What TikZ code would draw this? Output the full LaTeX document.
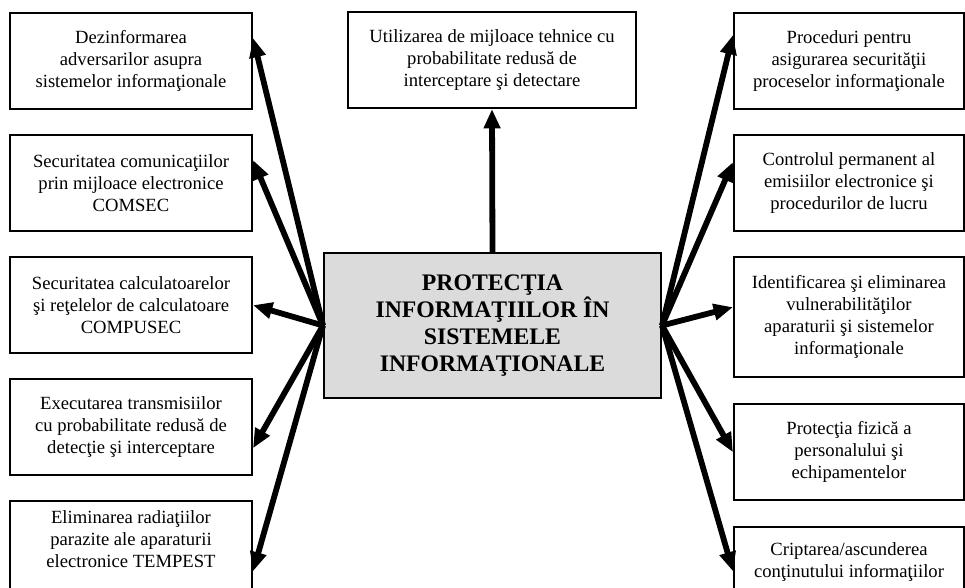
\documentclass[tikz,border=0pt]{standalone}
\usepackage{fontspec}
\setmainfont{Liberation Serif}
\usetikzlibrary{arrows.meta,positioning}
\tikzset{
  sbox/.style ={draw, line width=1.2pt, align=center, inner sep=2pt,
                font=\fontsize{10.6}{12.5}\selectfont},
  lbox/.style ={sbox, minimum width=4.84cm, minimum height=1.92cm},
  rbox/.style ={sbox, minimum width=4.6cm, minimum height=1.92cm},
  cbox/.style ={draw, line width=1.2pt, fill=black!14, align=center,
                minimum width=6.74cm, minimum height=2.9cm,
                font=\fontsize{13.5}{15.4}\selectfont\bfseries},
  bar/.style  ={line width=3.3pt, -{Triangle[length=11pt,width=9pt]}},
}
\begin{document}
\begin{tikzpicture}[x=0.02cm, y=-0.02cm]
\useasboundingbox (0,0) rectangle (965,588);

% centre and top
\node[cbox] (C) at (492.5,325.5)
  {PROTECŢIA\\INFORMAŢIILOR ÎN\\SISTEMELE\\INFORMAŢIONALE};
\node[sbox, minimum width=5.76cm, minimum height=1.92cm] (T) at (492,60)
  {Utilizarea de mijloace tehnice cu\\probabilitate redusă de\\interceptare şi detectare};

% left column
\node[lbox] (L1) at (131,61)
  {Dezinformarea\\adversarilor asupra\\sistemelor informaţionale};
\node[lbox, below=0.48cm of L1] (L2)
  {Securitatea comunicaţiilor\\prin mijloace electronice\\COMSEC};
\node[lbox, below=0.48cm of L2] (L3)
  {Securitatea calculatoarelor\\şi reţelelor de calculatoare\\COMPUSEC};
\node[lbox, below=0.48cm of L3] (L4)
  {Executarea transmisiilor\\cu probabilitate redusă de\\detecţie şi interceptare};
\node[lbox, minimum height=1.96cm, below=0.48cm of L4] (L5)
  {Eliminarea radiaţiilor\\parazite ale aparaturii\\electronice TEMPEST\\~};

% right column
\node[rbox] (R1) at (849,61)
  {Proceduri pentru\\asigurarea securităţii\\proceselor informaţionale};
\node[rbox, below=0.48cm of R1] (R2)
  {Controlul permanent al\\emisiilor electronice şi\\procedurilor de lucru};
\node[rbox, minimum height=2.4cm, below=0.48cm of R2] (R3)
  {Identificarea şi eliminarea\\vulnerabilităţilor\\aparaturii şi sistemelor\\informaţionale};
\node[rbox, below=0.5cm of R3] (R4)
  {Protecţia fizică a\\personalului şi\\echipamentelor};
\node[rbox, minimum height=1.76cm, below=0.5cm of R4] (R5)
  {Criptarea/ascunderea\\conţinutului informaţiilor\\~};

% arrows
\draw[bar] (C.north) -- (T.south);

\draw[bar] (C.west) -- ([yshift=0.46cm]L1.east);
\draw[bar] (C.west) -- ([yshift=0.46cm]L2.east);
\draw[bar] (C.west) -- (L3.east);
\draw[bar] (C.west) -- ([yshift=-0.42cm]L4.east);
\draw[bar] (C.west) -- ([yshift=-0.42cm]L5.east);

\draw[bar] (C.east) -- ([yshift=0.52cm]R1.west);
\draw[bar] (C.east) -- ([yshift=0.42cm]R2.west);
\draw[bar] (C.east) -- ([yshift=0.2cm]R3.west);
\draw[bar] (C.east) -- (R4.west);
\draw[bar] (C.east) -- (R5.west);

\end{tikzpicture}
\end{document}
